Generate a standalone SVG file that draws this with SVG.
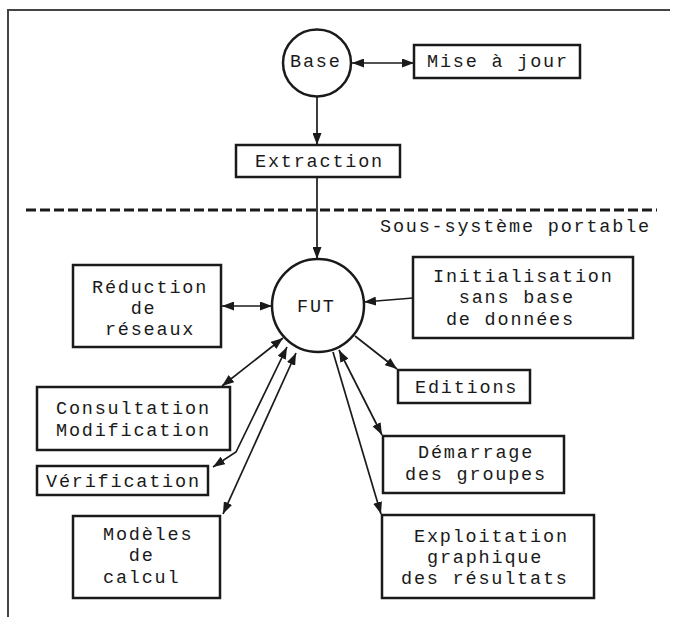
<svg xmlns="http://www.w3.org/2000/svg" width="673" height="617" viewBox="0 0 673 617">
<defs>
<style>
.t{font-family:"Liberation Mono","DejaVu Sans Mono",monospace;font-size:18.5px;letter-spacing:1.8px;fill:#1a1a1a}
.box{fill:#fff;stroke:#1a1a1a;stroke-width:2.5}
.c{fill:none;stroke:#1a1a1a;stroke-width:1.7}
.frame{fill:none;stroke:#444;stroke-width:2}
</style>
<marker id="ah" viewBox="0 0 12 9" refX="12" refY="4.5" markerWidth="12" markerHeight="9" markerUnits="userSpaceOnUse" orient="auto-start-reverse">
<path d="M0,0 L12,4.5 L0,9 z" fill="#1a1a1a"/>
</marker>
</defs>
<rect width="673" height="617" fill="#fff"/>
<polyline class="frame" points="8,617 8,10 670,10"/>
<line x1="26" y1="210" x2="657" y2="210" stroke="#1a1a1a" stroke-width="3" stroke-dasharray="10,4"/>
<text class="t" x="380" y="232">Sous-système portable</text>

<g id="connectors">
<line class="c" x1="352" y1="63" x2="414" y2="63" marker-start="url(#ah)" marker-end="url(#ah)"/>
<line class="c" x1="317" y1="97" x2="317" y2="145" marker-end="url(#ah)"/>
<line class="c" x1="317" y1="177" x2="317" y2="259" marker-end="url(#ah)"/>
<line class="c" x1="222" y1="306" x2="272" y2="306" marker-start="url(#ah)" marker-end="url(#ah)"/>
<line class="c" x1="413" y1="298" x2="364" y2="302" marker-end="url(#ah)"/>
<line class="c" x1="222" y1="386" x2="283" y2="338" marker-start="url(#ah)" marker-end="url(#ah)"/>
<line class="c" x1="355" y1="336" x2="397" y2="369" marker-end="url(#ah)"/>
<polyline class="c" points="287,347 236,452 213,467" marker-start="url(#ah)" marker-end="url(#ah)"/>
<line class="c" x1="296" y1="353" x2="223" y2="514" marker-start="url(#ah)" marker-end="url(#ah)"/>
<line class="c" x1="339" y1="350" x2="382" y2="435" marker-start="url(#ah)" marker-end="url(#ah)"/>
<line class="c" x1="333" y1="352" x2="381" y2="514" marker-end="url(#ah)"/>
</g>

<g id="base">
<ellipse class="box" cx="317" cy="63" rx="34" ry="33.5"/>
<text class="t" x="290" y="67">Base</text>
</g>
<g id="mise">
<rect class="box" x="414" y="45" width="166" height="33"/>
<text class="t" x="427" y="67">Mise à jour</text>
</g>
<g id="extraction">
<rect class="box" x="236" y="145" width="164" height="32"/>
<text class="t" x="255" y="167">Extraction</text>
</g>
<g id="fut">
<ellipse class="box" cx="318" cy="305.5" rx="46" ry="46.5"/>
<text class="t" x="297" y="312">FUT</text>
</g>
<g id="reduction">
<rect class="box" x="73" y="265" width="148" height="82"/>
<text class="t" x="92" y="293">Réduction</text>
<text class="t" x="130.7" y="314">de</text>
<text class="t" x="104.9" y="335">réseaux</text>
</g>
<g id="initialisation">
<rect class="box" x="413" y="257" width="220" height="81"/>
<text class="t" x="433" y="282">Initialisation</text>
<text class="t" x="458.8" y="303">sans base</text>
<text class="t" x="445.9" y="325">de données</text>
</g>
<g id="consultation">
<rect class="box" x="37" y="387" width="193" height="63"/>
<text class="t" x="56" y="414">Consultation</text>
<text class="t" x="56" y="436">Modification</text>
</g>
<g id="verification">
<rect class="box" x="37" y="466" width="171" height="29"/>
<text class="t" x="46" y="487">Vérification</text>
</g>
<g id="editions">
<rect class="box" x="398" y="370" width="132" height="33"/>
<text class="t" x="415" y="393">Editions</text>
</g>
<g id="demarrage">
<rect class="box" x="383" y="436" width="181" height="57"/>
<text class="t" x="418" y="458">Démarrage</text>
<text class="t" x="405" y="480">des groupes</text>
</g>
<g id="modeles">
<rect class="box" x="73" y="516" width="147" height="82"/>
<text class="t" x="103" y="540">Modèles</text>
<text class="t" x="128.8" y="561">de</text>
<text class="t" x="103" y="583">calcul</text>
</g>
<g id="exploitation">
<rect class="box" x="382" y="515" width="212" height="83"/>
<text class="t" x="414" y="542">Exploitation</text>
<text class="t" x="427" y="563">graphique</text>
<text class="t" x="401" y="584">des résultats</text>
</g>
</svg>
